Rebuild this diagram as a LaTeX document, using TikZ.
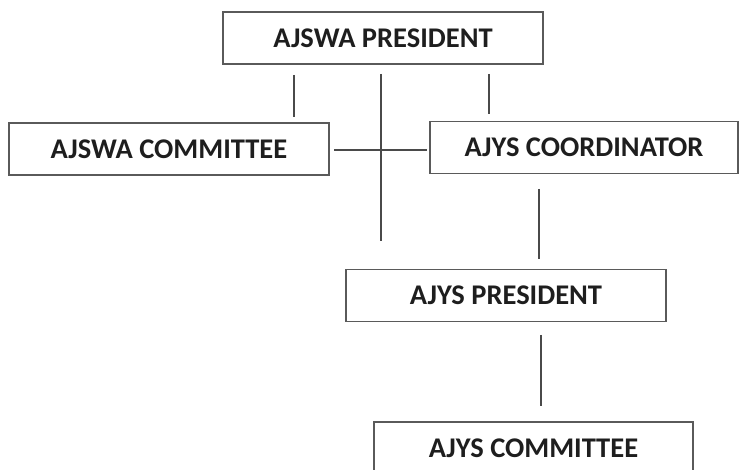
\documentclass[tikz,border=0pt]{standalone}
\usepackage{fontspec}
\setmainfont{Carlito}
\definecolor{linegray}{HTML}{4A4A4A}
\definecolor{boxgray}{HTML}{5A5A5A}
\definecolor{textgray}{HTML}{1E1E1E}
\tikzset{
  orgbox/.style={draw=boxgray, line width=1.4pt, rectangle, inner sep=0pt,
    minimum height=52pt, text=textgray, font=\bfseries\fontsize{28.5}{32}\selectfont},
  link/.style={draw=linegray, line width=1.4pt}
}
\begin{document}
\begin{tikzpicture}[x=1pt,y=-1pt]
\useasboundingbox (0,0) rectangle (740,470);
\begin{scope}
\clip (0,0) rectangle (740,470);
\node[orgbox, minimum width=320pt] (pres) at (383,38) {AJSWA PRESIDENT};
\node[orgbox, minimum width=320pt] (comm) at (169,149) {AJSWA COMMITTEE};
\node[orgbox, minimum width=308pt] (coord) at (584,147.5) {AJYS COORDINATOR};
\node[orgbox, minimum width=320pt] (ypres) at (506,295.5) {AJYS PRESIDENT};
\node[orgbox, minimum width=319pt] (ycomm) at (533.5,448) {AJYS COMMITTEE};

\coordinate (l1a) at (294,75);  \coordinate (l1b) at (294,117);
\coordinate (l2a) at (381,74);  \coordinate (l2b) at (381,241);
\coordinate (l3a) at (489,74);  \coordinate (l3b) at (489,114);
\coordinate (h1a) at (334,150); \coordinate (h1b) at (427,150);
\coordinate (l4a) at (539,189); \coordinate (l4b) at (539,259);
\coordinate (l5a) at (541,335); \coordinate (l5b) at (541,406);

\draw[link] (l1a) -- (l1b);
\draw[link] (l2a) -- (l2b);
\draw[link] (l3a) -- (l3b);
\draw[link] (h1a) -- (h1b);
\draw[link] (l4a) -- (l4b);
\draw[link] (l5a) -- (l5b);
\end{scope}
\end{tikzpicture}
\end{document}
